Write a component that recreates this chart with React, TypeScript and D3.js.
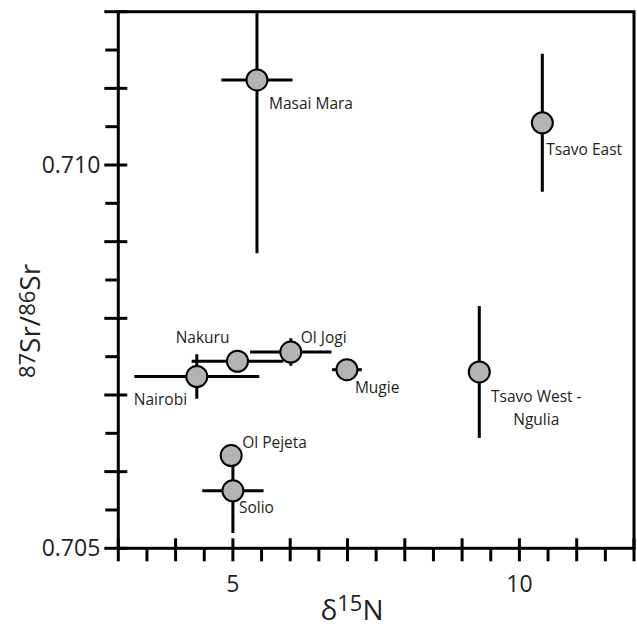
import React from 'react';
import * as d3 from 'd3';

// site means, d15N (permil) and 87Sr/86Sr, with 1 sd error bars
const sites = ['Masai Mara', 'Tsavo East', 'Tsavo West - Ngulia', 'Nakuru', 'Ol Jogi', 'Nairobi', 'Mugie', 'Ol Pejeta', 'Solio'];
const d15N = [5.42, 10.4, 9.3, 5.08, 6.01, 4.37, 6.99, 4.97, 5.0];
const srRatio = [0.71111, 0.71055, 0.7073, 0.70744, 0.70756, 0.70724, 0.70733, 0.70621, 0.70575];
const d15NErr = [0.62, 0, 0, 0.8, 0.71, 1.09, 0.26, 0, 0.535];
const srErr = [0.00226, 0.0009, 0.00086, 0, 0.00018, 0.00029, 0, 0, 0.00055];

const xTickLabels = [5, 10];
const yTickLabels = [0.705, 0.71];

// label placement relative to each point: dx, dy, anchor
const labelOffsets: [number, number, string][] = [
  [12, 29, 'start'],
  [4, 32, 'start'],
  [57, 30, 'middle'],
  [-8, -18, 'end'],
  [10, -9, 'start'],
  [-63, 28, 'start'],
  [8, 23, 'start'],
  [11, -8, 'start'],
  [6, 22, 'start'],
];

const W = 637;
const H = 629;
const font = '"Open Sans", sans-serif';

export default function App() {
  const x = d3.scaleLinear().domain([3, 12]).range([118.3, 634]);
  const y = d3.scaleLinear().domain([0.705, 0.712]).range([548.3, 11.7]);
  const [x0, x1] = x.range();
  const [y0, y1] = y.range();

  const xMajor = d3.range(3, 12.01, 1);
  const xMinor = d3.range(3.5, 12, 1);
  const yMajor = d3.range(0, 8).map((i) => 0.705 + i * 0.001);
  const yMinor = d3.range(0, 7).map((i) => 0.7055 + i * 0.001);

  return (
    <svg width={W} height={H} style={{ position: 'absolute', left: 0, top: 0, background: '#fff' }} fontFamily={font}>
      <defs>
        <clipPath id="plot">
          <rect x={x0} y={y1} width={x1 - x0} height={y0 - y1} />
        </clipPath>
      </defs>

      {/* frame */}
      <rect x={x0} y={y1} width={x1 - x0} height={y0 - y1} fill="none" stroke="#000" strokeWidth={3} />

      {/* ticks */}
      {yMajor.map((v) => (
        <line key={'ym' + v} x1={x0 - 14} x2={x0 + 9} y1={y(v)} y2={y(v)} stroke="#000" strokeWidth={3} />
      ))}
      {yMinor.map((v) => (
        <line key={'yn' + v} x1={x0 - 13} x2={x0} y1={y(v)} y2={y(v)} stroke="#000" strokeWidth={3} />
      ))}
      {xMajor.map((v) => (
        <line key={'xm' + v} x1={x(v)} x2={x(v)} y1={y0 - 10} y2={y0 + 13} stroke="#000" strokeWidth={3} />
      ))}
      {xMinor.map((v) => (
        <line key={'xn' + v} x1={x(v)} x2={x(v)} y1={y0} y2={y0 + 13} stroke="#000" strokeWidth={3} />
      ))}

      {/* tick labels */}
      {yTickLabels.map((v) => (
        <text key={'yl' + v} x={x0 - 18} y={y(v) + 8} textAnchor="end" fontSize={23} fill="#231f20">
          {d3.format('.3f')(v)}
        </text>
      ))}
      {xTickLabels.map((v) => (
        <text key={'xl' + v} x={x(v)} y={592} textAnchor="middle" fontSize={23} fill="#231f20">
          {v}
        </text>
      ))}

      {/* axis titles */}
      <text x={352} y={620} textAnchor="middle" fontSize={28} fill="#231f20">
        δ<tspan fontSize={22} dy={-9}>15</tspan>
        <tspan dy={9}>N</tspan>
      </text>
      <text transform="translate(40,321) rotate(-90)" textAnchor="middle" fontSize={28} fill="#231f20">
        <tspan fontSize={22} dy={-5}>87</tspan>
        <tspan dy={5}>Sr/</tspan>
        <tspan fontSize={22} dy={-5}>86</tspan>
        <tspan dy={5}>Sr</tspan>
      </text>

      {/* error bars */}
      <g clipPath="url(#plot)" stroke="#000" strokeWidth={3}>
        {sites.map((s, i) => (
          <g key={'e' + s}>
            {d15NErr[i] > 0 && (
              <line x1={x(d15N[i] - d15NErr[i])} x2={x(d15N[i] + d15NErr[i])} y1={y(srRatio[i])} y2={y(srRatio[i])} />
            )}
            {srErr[i] > 0 && (
              <line x1={x(d15N[i])} x2={x(d15N[i])} y1={y(srRatio[i] - srErr[i])} y2={y(srRatio[i] + srErr[i])} />
            )}
          </g>
        ))}
      </g>

      {/* points */}
      {sites.map((s, i) => (
        <circle key={'p' + s} cx={x(d15N[i])} cy={y(srRatio[i])} r={10.5} fill="#b3b3b3" stroke="#000" strokeWidth={2} />
      ))}

      {/* site labels */}
      {sites.map((s, i) => {
        const [dx, dy, anchor] = labelOffsets[i];
        const lines = s === 'Tsavo West - Ngulia' ? ['Tsavo West -', 'Ngulia'] : [s];
        return (
          <text key={'l' + s} x={x(d15N[i]) + dx} y={y(srRatio[i]) + dy} textAnchor={anchor} fontSize={15.5} fill="#231f20">
            {lines.map((t, j) => (
              <tspan key={t} x={x(d15N[i]) + dx} dy={j === 0 ? 0 : 23}>
                {t}
              </tspan>
            ))}
          </text>
        );
      })}
    </svg>
  );
}
